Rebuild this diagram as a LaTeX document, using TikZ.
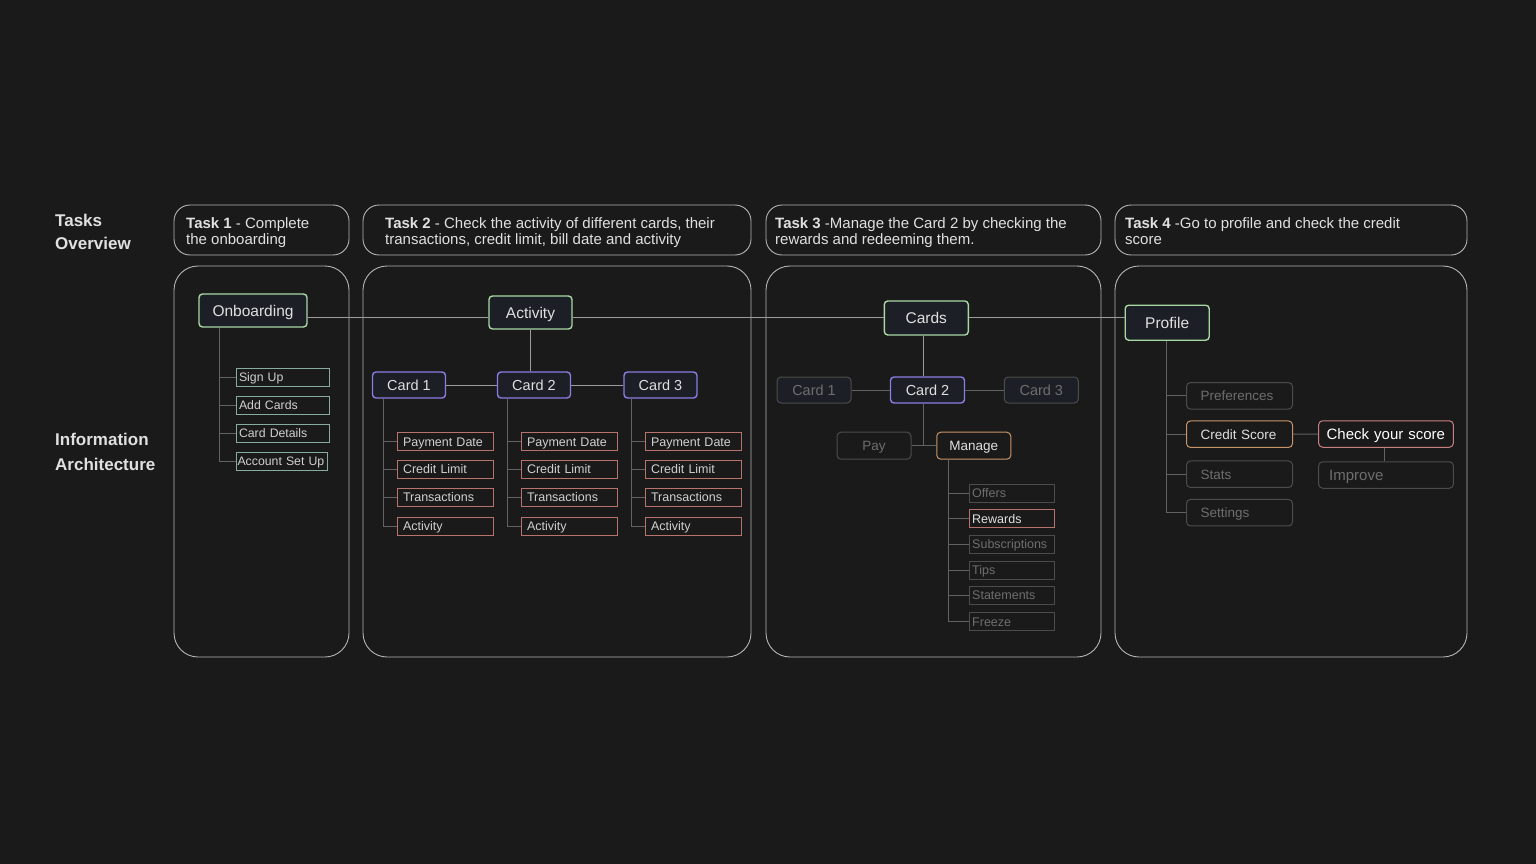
\documentclass[tikz,border=0pt]{standalone}
\usepackage{fontspec}
\setmainfont{Liberation Sans}
\usetikzlibrary{calc}
\definecolor{bg}{HTML}{1A1A1A}
\definecolor{framec}{HTML}{B4B4B4}
\definecolor{mygreen}{HTML}{A8D8A4}
\definecolor{mypurple}{HTML}{8C7CE4}
\definecolor{nodefill}{HTML}{1C1F26}
\definecolor{tealc}{HTML}{86ACA2}
\definecolor{salmonc}{HTML}{B8746C}
\definecolor{orangec}{HTML}{C8946A}
\definecolor{redc}{HTML}{C98080}
\definecolor{dimline}{HTML}{4C4C4C}
\definecolor{dimtext}{HTML}{6E6E6E}
\definecolor{txt}{HTML}{E0E0E0}
\definecolor{leaftxt}{HTML}{D0D0D0}
\definecolor{conn}{HTML}{9C9C9C}
\definecolor{subconn}{HTML}{626262}
\tikzset{
  framebox/.style={draw=framec, line width=0.9pt, rounded corners=16pt},
  bigbox/.style={draw=framec, line width=0.9pt, rounded corners=24pt},
  headtext/.style={anchor=north west, inner sep=0pt, text=txt, align=left, font=\fontsize{15}{16}\selectfont},
  sidelabel/.style={anchor=west, inner sep=0pt, text=txt, font=\fontsize{17}{20}\selectfont\bfseries},
  mainnode/.style={draw=mygreen, fill=nodefill, rounded corners=3.5pt, line width=1.4pt, text=txt, inner sep=0pt, text height=12pt, text depth=1pt, font=\fontsize{15.5}{18}\selectfont},
  cardnode/.style={draw=mypurple, fill=nodefill, rounded corners=3.5pt, line width=1.4pt, text=txt, inner sep=0pt, minimum width=73pt, minimum height=26pt, text height=11.5pt, text depth=1pt, font=\fontsize{14.5}{17}\selectfont},
  dimcard/.style={draw=dimline, fill=nodefill, rounded corners=4pt, line width=1pt, text=dimtext, inner sep=0pt, minimum width=74pt, minimum height=26pt, text height=11.5pt, text depth=1pt, font=\fontsize{14.5}{17}\selectfont},
  leafbase/.style={line width=1pt, inner ysep=0pt, minimum height=18pt, align=left, text height=10.5pt, text depth=1.5pt},
  leafA/.style={leafbase, draw=tealc, text=leaftxt, inner xsep=3pt, text width=87pt, font=\fontsize{12.3}{14}\selectfont},
  leafB/.style={leafbase, draw=salmonc, text=leaftxt, inner xsep=6pt, text width=84pt, font=\fontsize{12.5}{14}\selectfont},
  leafC/.style={leafbase, draw=dimline, text=dimtext, inner xsep=3pt, text width=79pt, font=\fontsize{12.5}{14}\selectfont},
  leafD/.style={line width=1pt, draw=dimline, text=dimtext, rounded corners=4pt, inner ysep=0pt, minimum height=26.5pt, inner xsep=14pt, text width=78pt, align=left, text height=11pt, text depth=1.3pt, font=\fontsize{13.5}{15}\selectfont},
  mainline/.style={draw=conn, line width=1pt},
  subline/.style={draw=subconn, line width=1pt},
}
\begin{document}
\begin{tikzpicture}[x=1pt,y=-1pt]
\fill[bg] (0,0) rectangle (1536,864);
\useasboundingbox (0,0) rectangle (1536,864);

% side labels
\node[sidelabel] (lt1) at (55,220) {Tasks};
\node[sidelabel] (lt2) at (55,243) {Overview};
\node[sidelabel] (li1) at (55,439) {Information};
\node[sidelabel] (li2) at (55,464) {Architecture};

% header boxes
\draw[framebox] (174,205) rectangle (349,255);
\draw[framebox] (363,205) rectangle (751,255);
\draw[framebox] (766,205) rectangle (1101,255);
\draw[framebox] (1115,205) rectangle (1467,255);
\node[headtext] (h1) at (186,217) {\textbf{Task 1} - Complete\\the onboarding};
\node[headtext] (h2) at (385,217) {\textbf{Task 2} - Check the activity of different cards, their\\transactions, credit limit, bill date and activity};
\node[headtext] (h3) at (775,217) {\textbf{Task 3} -Manage the Card 2 by checking the\\rewards and redeeming them.};
\node[headtext] (h4) at (1125,217) {\textbf{Task 4} -Go to profile and check the credit\\score};

% big boxes
\draw[bigbox] (174,266) rectangle (349,657);
\draw[bigbox] (363,266) rectangle (751,657);
\draw[bigbox] (766,266) rectangle (1101,657);
\draw[bigbox] (1115,266) rectangle (1467,657);

% main nodes
\node[mainnode, minimum width=108pt, minimum height=33pt] (onb) at (253,310.5) {Onboarding};
\node[mainnode, minimum width=83pt, minimum height=33pt] (act) at (530.5,312.5) {Activity};
\node[mainnode, minimum width=84pt, minimum height=34pt] (cards) at (926.3,318) {Cards};
\node[mainnode, minimum width=84pt, minimum height=35pt] (prof) at (1167.2,322.7) {Profile};

% main horizontal line
\draw[mainline] (onb.east |- 0,317) -- (act.west |- 0,317);
\draw[mainline] (act.east |- 0,317) -- (cards.west |- 0,317);
\draw[mainline] (cards.east |- 0,317) -- (prof.west |- 0,317);

% ---------- Task 1 ----------
\node[leafA] (su) at (282.5,377) {Sign Up};
\node[leafA] (ac) at (282.5,405) {Add Cards};
\node[leafA] (cd) at (282.5,433) {Card Details};
\node[leafA, inner xsep=1.5pt, text width=88pt] (asu) at (281.5,461) {\mbox{Account Set Up}};
\coordinate (t1x) at (219,0);
\draw[subline] (onb.south -| t1x) |- (asu.west);
\foreach \n in {su,ac,cd} \draw[subline] (\n.west -| t1x) -- (\n.west);

% ---------- Task 2 ----------
\node[cardnode] (a1) at (409,385) {Card 1};
\node[cardnode] (a2) at (534,385) {Card 2};
\node[cardnode] (a3) at (660.5,385) {Card 3};
\draw[mainline] (act.south) -- (act.south |- a2.north);
\draw[mainline] (a1.east) -- (a2.west);
\draw[mainline] (a2.east) -- (a3.west);

\foreach \c/\cx/\lx in {1/383/445, 2/507.5/569, 3/631.5/693}{
  \node[leafB] (p\c) at (\lx,441.7) {Payment Date};
  \node[leafB] (l\c) at (\lx,469.3) {Credit Limit};
  \node[leafB] (t\c) at (\lx,497) {Transactions};
  \node[leafB] (v\c) at (\lx,526) {Activity};
  \draw[subline] (a\c.south -| \cx,0) |- (v\c.west);
  \draw[subline] (p\c.west -| \cx,0) -- (p\c.west);
  \draw[subline] (l\c.west -| \cx,0) -- (l\c.west);
  \draw[subline] (t\c.west -| \cx,0) -- (t\c.west);
}

% ---------- Task 3 ----------
\node[dimcard] (b1) at (814,390) {Card 1};
\node[cardnode, minimum width=74pt] (b2) at (927.5,390) {Card 2};
\node[dimcard] (b3) at (1041.3,390) {Card 3};
\draw[mainline] (cards.south -| 923.7,0) -- (b2.north -| 923.7,0);
\draw[subline] (b1.east) -- (b2.west);
\draw[subline] (b2.east) -- (b3.west);
\node[dimcard, fill=bg, minimum height=27pt, text height=10.5pt, font=\fontsize{13.5}{16}\selectfont] (pay) at (874,445.7) {Pay};
\node[dimcard, fill=bg, draw=orangec, text=txt, minimum height=27pt, text height=10.5pt, font=\fontsize{13.5}{16}\selectfont] (man) at (973.8,445.7) {Manage};
\draw[subline] (b2.south -| 923.7,0) -- (923.7,445.7);
\draw[subline] (pay.east) -- (man.west);
\node[leafC] (of) at (1011.7,493) {Offers};
\node[leafC, draw=salmonc, text=txt] (rw) at (1011.7,518.7) {Rewards};
\node[leafC] (sb) at (1011.7,544.3) {Subscriptions};
\node[leafC] (tp) at (1011.7,570) {Tips};
\node[leafC] (st) at (1011.7,595.3) {Statements};
\node[leafC] (fr) at (1011.7,621.8) {Freeze};
\coordinate (t3x) at (948.3,0);
\draw[subline] (man.south -| t3x) |- (fr.west);
\foreach \n in {of,rw,sb,tp,st} \draw[subline] (\n.west -| t3x) -- (\n.west);

% ---------- Task 4 ----------
\node[leafD] (pr) at (1239.5,395.8) {Preferences};
\node[leafD, draw=orangec, text=txt] (cs) at (1239.5,434.2) {Credit Score};
\node[leafD] (sts) at (1239.5,474.2) {Stats};
\node[leafD] (set) at (1239.5,512.7) {Settings};
\coordinate (t4x) at (1166,0);
\draw[subline] (prof.south -| t4x) |- (set.west);
\foreach \n in {pr,cs,sts} \draw[subline] (\n.west -| t4x) -- (\n.west);
\node[leafD, draw=redc, text=white, text width=118.7pt, inner xsep=8pt, text height=12pt, font=\fontsize{15}{17}\selectfont] (chk) at (1386,434) {\mbox{Check your score}};
\node[leafD, text width=113.7pt, inner xsep=10.5pt, text height=12pt, font=\fontsize{15}{17}\selectfont] (imp) at (1386,475) {Improve};
\draw[subline] (cs.east) -- (chk.west);
\draw[subline] (chk.south -| 1384.3,0) -- (imp.north -| 1384.3,0);
\end{tikzpicture}
\end{document}
